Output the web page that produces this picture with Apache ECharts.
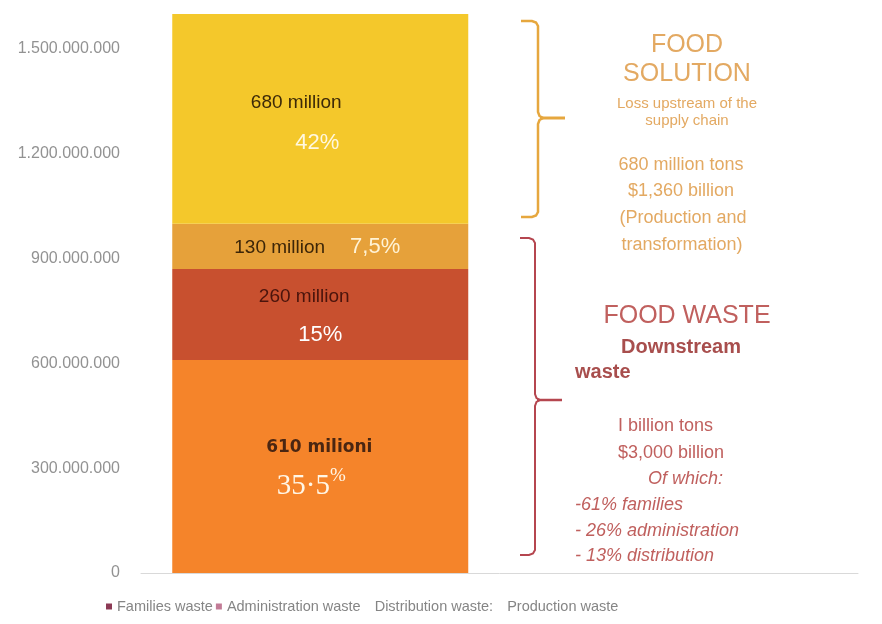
<!DOCTYPE html>
<html>
<head>
<meta charset="utf-8">
<script src="https://cdn.jsdelivr.net/npm/echarts@6/dist/echarts.min.js"></script>
<style>
  html, body { margin: 0; padding: 0; background: #ffffff; }
  #chart { width: 882px; height: 624px; }
</style>
</head>
<body>
<div id="chart"></div>
<script>
// Categories on the x axis: the stacked column sits in the first slot
const categories = ['Food', ''];

// Stacked segments, bottom to top (tons)
const seriesNames = ['Families waste', 'Administration waste', 'Distribution waste:', 'Production waste'];
const familiesWaste = [610000000, '-'];
const administrationWaste = [260000000, '-'];
const distributionWaste = [130000000, '-'];
const productionWaste = [680000000, '-'];

// Texts printed inside each segment
const amountLabels = ['610 milioni', '260 million', '130 million', '680 million'];
const shareLabels = ['35·5', '15%', '7,5%', '42%'];

// Value axis
const axisMin = 0;
const axisMax = 1600000000;
const axisStep = 300000000;

const segmentColors = ['#F5842A', '#C8502F', '#E6A13A', '#F4C82B'];
const FONT = '"Liberation Sans", Arial, sans-serif';

function dotted(v) {
  return String(v).replace(/\B(?=(\d{3})+(?!\d))/g, '.');
}

const labelDefs = [
  {
    offset: [0, 1],
    formatter: '{a|' + amountLabels[0] + '}\n{b|' + shareLabels[0] + '}{c|%}',
    rich: {
      a: { fontFamily: '"DejaVu Sans", sans-serif', fontWeight: 'bold', fontSize: 17, color: '#4a2612', lineHeight: 38, align: 'center', padding: [0, 2, 0, 0] },
      b: { fontFamily: '"Liberation Serif", serif', fontSize: 29, color: '#fff6e6', lineHeight: 40, align: 'center' },
      c: { fontFamily: '"Liberation Serif", serif', fontSize: 19, color: '#fff6e6', lineHeight: 40, verticalAlign: 'top', align: 'center', padding: [0, 18, 0, 0] }
    }
  },
  {
    offset: [0, 1],
    formatter: '{a|' + amountLabels[1] + '}\n{b|' + shareLabels[1] + '}',
    rich: {
      a: { fontFamily: FONT, fontSize: 19, color: '#4a140c', lineHeight: 38, align: 'center', padding: [0, 32, 0, 0] },
      b: { fontFamily: FONT, fontSize: 22, color: '#ffffff', lineHeight: 38, align: 'center' }
    }
  },
  {
    offset: [-3, 1],
    formatter: '{a|' + amountLabels[2] + '}{b|' + shareLabels[2] + '}',
    rich: {
      a: { fontFamily: FONT, fontSize: 19, color: '#3d2608', lineHeight: 30, align: 'center' },
      b: { fontFamily: FONT, fontSize: 22, color: '#fff3d6', lineHeight: 30, align: 'center', padding: [0, 0, 0, 25] }
    }
  },
  {
    offset: [0, 4],
    formatter: '{a|' + amountLabels[3] + '}\n{b|' + shareLabels[3] + '}',
    rich: {
      a: { fontFamily: FONT, fontSize: 19, color: '#3d2a08', lineHeight: 40, align: 'center', padding: [0, 48, 0, 0] },
      b: { fontFamily: FONT, fontSize: 22, color: '#fff8e0', lineHeight: 40, align: 'center', padding: [0, 6, 0, 0] }
    }
  }
];

const seriesData = [familiesWaste, administrationWaste, distributionWaste, productionWaste];

const series = seriesData.map((values, i) => ({
  name: seriesNames[i],
  type: 'bar',
  stack: 'total',
  barWidth: 296,
  data: values,
  itemStyle: { color: segmentColors[i] },
  label: Object.assign({ show: true, position: 'inside' }, labelDefs[i]),
  emphasis: { disabled: true },
  silent: true
}));

const gold = '#E3A962';
const goldLine = '#E6A73E';
const wine = '#C0605E';
const wineDark = '#A84E4D';
const wineLine = '#B5464F';

function txt(text, x, y, font, fill, align) {
  return {
    type: 'text',
    silent: true,
    style: {
      text: text, x: x, y: y, font: font, fill: fill,
      align: align || 'center', verticalAlign: 'middle',
      textAlign: align || 'center', textVerticalAlign: 'middle'
    }
  };
}

// curly brace: vertical stroke at x, from top to bottom, pointing right at mid
function brace(x, top, mid, bottom, left, tip, color, width) {
  return [
    {
      type: 'polyline', silent: true,
      shape: { points: [
        [left, top], [x - 6, top], [x - 2, top + 1.5], [x, top + 5], [x, mid - 6],
        [x + 1.5, mid - 2], [x + 5, mid],
        [x + 1.5, mid + 2], [x, mid + 6], [x, bottom - 5],
        [x - 2, bottom - 1.5], [x - 6, bottom], [left, bottom]
      ] },
      style: { stroke: color, lineWidth: width, fill: null }
    },
    {
      type: 'line', silent: true,
      shape: { x1: x + 2, y1: mid, x2: tip, y2: mid },
      style: { stroke: color, lineWidth: width + 0.5 }
    }
  ];
}

const graphics = [].concat(
  brace(538, 21, 118, 217, 521, 565, goldLine, 2.5),
  brace(535, 238, 400, 555, 520, 562, wineLine, 2),
  [
    txt('FOOD', 687, 45, '25px ' + FONT, gold),
    txt('SOLUTION', 687, 74, '25px ' + FONT, gold),
    txt('Loss upstream of the', 687, 104, '15px ' + FONT, gold),
    txt('supply chain', 687, 121, '15px ' + FONT, gold),
    txt('680 million tons', 681, 165, '18px ' + FONT, gold),
    txt('$1,360 billion', 681, 191, '18px ' + FONT, gold),
    txt('(Production and', 683, 218, '18px ' + FONT, gold),
    txt('transformation)', 682, 245, '18px ' + FONT, gold),

    txt('FOOD WASTE', 687, 316, '25px ' + FONT, wine),
    txt('Downstream', 681, 347, 'bold 20px ' + FONT, wineDark),
    txt('waste', 575, 372, 'bold 20px ' + FONT, wineDark, 'left'),
    txt('I billion tons', 618, 426, '18px ' + FONT, wine, 'left'),
    txt('$3,000 billion', 618, 453, '18px ' + FONT, wine, 'left'),
    txt('Of which:', 648, 479, 'italic 18px ' + FONT, wine, 'left'),
    txt('-61% families', 575, 505, 'italic 18px ' + FONT, wine, 'left'),
    txt('- 26% administration', 575, 531, 'italic 18px ' + FONT, wine, 'left'),
    txt('- 13% distribution', 575, 556, 'italic 18px ' + FONT, wine, 'left')
  ]
);

const chart = echarts.init(document.getElementById('chart'), null, { renderer: 'canvas' });

chart.setOption({
  animation: false,
  backgroundColor: '#ffffff',
  grid: { left: 141, right: 24, top: 14, bottom: 51, containLabel: false },
  legend: {
    left: 101,
    top: 594,
    icon: 'rect',
    itemWidth: 6,
    itemHeight: 6,
    itemGap: 3,
    selectedMode: false,
    textStyle: { fontFamily: FONT, fontSize: 14.5, color: '#858585' },
    data: [
      { name: seriesNames[0], itemStyle: { color: '#8C3A55' } },
      { name: seriesNames[1], itemStyle: { color: '#C27B96' } },
      { name: seriesNames[2], itemStyle: { color: 'rgba(0,0,0,0)' } },
      { name: seriesNames[3], itemStyle: { color: 'rgba(0,0,0,0)' } }
    ]
  },
  xAxis: {
    type: 'category',
    data: categories,
    axisLine: { lineStyle: { color: '#d9d9d9', width: 1 } },
    axisTick: { show: false },
    axisLabel: { show: false }
  },
  yAxis: {
    type: 'value',
    min: axisMin,
    max: axisMax,
    interval: axisStep,
    splitLine: { show: false },
    axisLine: { show: false },
    axisTick: { show: false },
    axisLabel: {
      showMaxLabel: false,
      margin: 21,
      fontFamily: FONT,
      fontSize: 16,
      color: '#929292',
      formatter: dotted
    }
  },
  series: series,
  graphic: graphics
});
</script>
</body>
</html>
